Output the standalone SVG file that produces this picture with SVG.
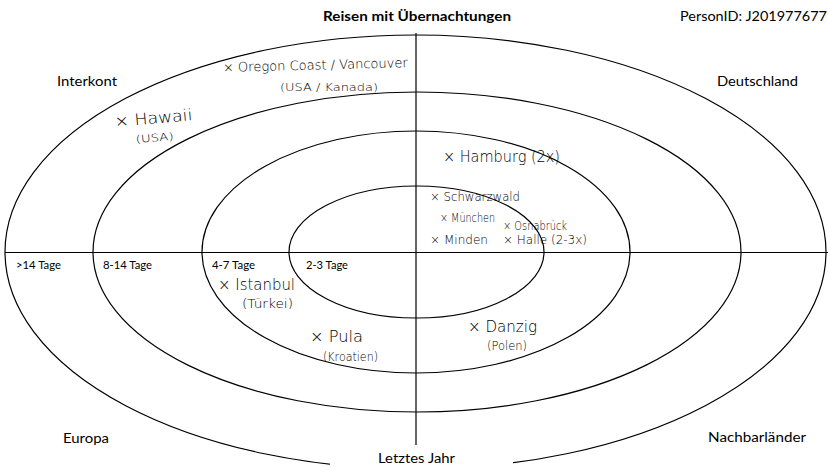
<svg xmlns="http://www.w3.org/2000/svg" width="828" height="467" viewBox="0 0 828 467">
<style>
.ring{fill:none;stroke:#000;stroke-width:1.2}
.axis{stroke:#000;stroke-width:1.2}
.lbl{font-family:Lato,"Liberation Sans",sans-serif;font-size:13.5px;fill:#000}
.day{font-family:Lato,"Liberation Sans",sans-serif;font-size:11.5px;fill:#000}
.ttl{font-family:Lato,"Liberation Sans",sans-serif;font-size:14px;font-weight:bold;fill:#000}
.hw{font-family:"DejaVu Sans","Liberation Sans",sans-serif;font-weight:200;fill:#000}
</style>
<rect width="828" height="467" fill="#fff"/>
<g id="rings">
<ellipse class="ring" cx="415.5" cy="252" rx="410.5" ry="217"/>
<ellipse class="ring" cx="417" cy="252" rx="324" ry="160"/>
<ellipse class="ring" cx="416" cy="252" rx="214" ry="121"/>
<ellipse class="ring" cx="416.5" cy="252" rx="127.5" ry="66"/>
</g>
<rect x="330" y="447" width="183" height="20" fill="#fff"/>
<g id="axes">
<line class="axis" x1="416" y1="33" x2="416" y2="445"/>
<line class="axis" x1="5" y1="252.5" x2="828" y2="252.5"/>
</g>
<g id="titles">
<text class="ttl" x="323" y="21" textLength="188" lengthAdjust="spacingAndGlyphs">Reisen mit Übernachtungen</text>
<text class="lbl" x="680" y="21" textLength="147" lengthAdjust="spacingAndGlyphs">PersonID: J201977677</text>
</g>
<g id="regions">
<text class="lbl" x="57" y="86" textLength="60" lengthAdjust="spacingAndGlyphs">Interkont</text>
<text class="lbl" x="717" y="86" textLength="81" lengthAdjust="spacingAndGlyphs">Deutschland</text>
<text class="lbl" x="63" y="443" textLength="46" lengthAdjust="spacingAndGlyphs">Europa</text>
<text class="lbl" x="708" y="442" textLength="98" lengthAdjust="spacingAndGlyphs">Nachbarländer</text>
<text class="lbl" x="378" y="463" textLength="77" lengthAdjust="spacingAndGlyphs">Letztes Jahr</text>
</g>
<g id="durations">
<text class="day" x="16" y="269" textLength="45" lengthAdjust="spacingAndGlyphs">&gt;14 Tage</text>
<text class="day" x="103" y="269" textLength="49" lengthAdjust="spacingAndGlyphs">8-14 Tage</text>
<text class="day" x="212" y="269" textLength="43" lengthAdjust="spacingAndGlyphs">4-7 Tage</text>
<text class="day" x="306" y="269" textLength="42" lengthAdjust="spacingAndGlyphs">2-3 Tage</text>
</g>
<g id="entries" class="hw">
<text x="223" y="72" font-size="13" textLength="185" lengthAdjust="spacingAndGlyphs" transform="rotate(-1.5 223 72)">× Oregon Coast / Vancouver</text>
<text x="280" y="91" font-size="11" textLength="98" lengthAdjust="spacingAndGlyphs">(USA / Kanada)</text>
<text x="115" y="127" font-size="16" textLength="78" lengthAdjust="spacingAndGlyphs" transform="rotate(-5 115 127)">× Hawaii</text>
<text x="136" y="143" font-size="10.5" textLength="38" lengthAdjust="spacingAndGlyphs" transform="rotate(-5 136 143)">(USA)</text>
<text x="443" y="162" font-size="16" textLength="117" lengthAdjust="spacingAndGlyphs">× Hamburg (2x)</text>
<text x="430" y="201" font-size="11.5" textLength="90" lengthAdjust="spacingAndGlyphs">× Schwarzwald</text>
<text x="440" y="222" font-size="11.5" textLength="55" lengthAdjust="spacingAndGlyphs">× München</text>
<text x="503" y="230" font-size="11.5" textLength="64" lengthAdjust="spacingAndGlyphs">× Osnabrück</text>
<text x="430" y="244" font-size="12" textLength="58" lengthAdjust="spacingAndGlyphs">× Minden</text>
<text x="503" y="244" font-size="12" textLength="84" lengthAdjust="spacingAndGlyphs">× Halle (2-3x)</text>
<text x="218" y="290" font-size="16" textLength="77" lengthAdjust="spacingAndGlyphs">× Istanbul</text>
<text x="242" y="308" font-size="12" textLength="51" lengthAdjust="spacingAndGlyphs">(Türkei)</text>
<text x="310" y="342" font-size="15" textLength="53" lengthAdjust="spacingAndGlyphs">× Pula</text>
<text x="323" y="361" font-size="11.5" textLength="55" lengthAdjust="spacingAndGlyphs">(Kroatien)</text>
<text x="468" y="332" font-size="16" textLength="69" lengthAdjust="spacingAndGlyphs">× Danzig</text>
<text x="487" y="350" font-size="11.5" textLength="40" lengthAdjust="spacingAndGlyphs">(Polen)</text>
</g>
</svg>
